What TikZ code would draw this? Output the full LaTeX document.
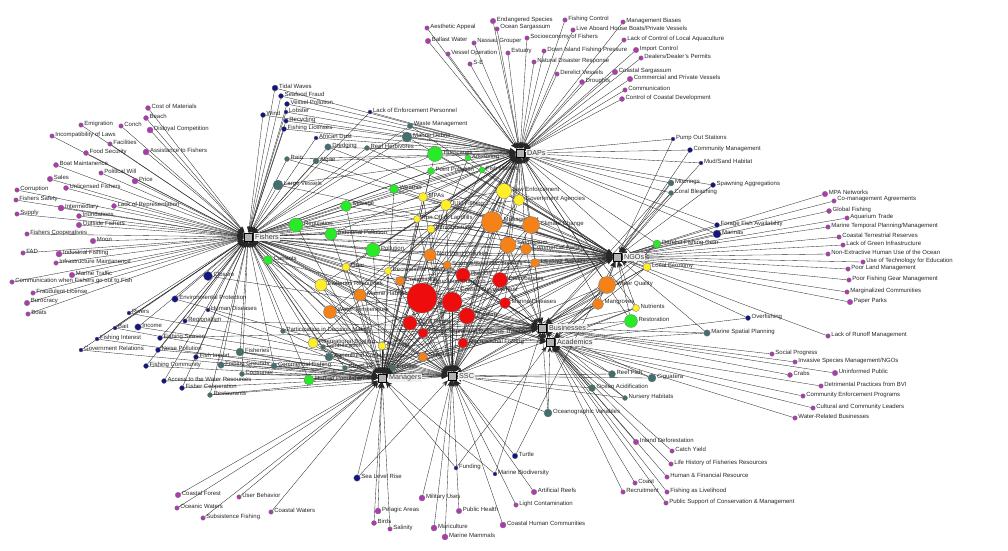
\documentclass[tikz,border=0pt]{standalone}
\usepackage{fontspec}
\setmainfont{Liberation Sans}
\usetikzlibrary{arrows.meta}
\definecolor{cpur}{RGB}{178,56,178}
\definecolor{cnavy}{RGB}{20,20,130}
\definecolor{cteal}{RGB}{66,112,110}
\definecolor{cgreen}{RGB}{40,235,40}
\definecolor{cyel}{RGB}{255,238,40}
\definecolor{corg}{RGB}{245,130,25}
\definecolor{cred}{RGB}{238,12,12}
\pgfdeclarelayer{bg}
\pgfsetlayers{bg,main}
\tikzset{
  actor/.style={circle,draw=black!55,line width=0.3pt,inner sep=0pt,minimum size=#1},
  pur/.style={actor=#1,fill=cpur},
  nav/.style={actor=#1,fill=cnavy},
  tea/.style={actor=#1,fill=cteal},
  grn/.style={actor=#1,fill=cgreen},
  yel/.style={actor=#1,fill=cyel},
  org/.style={actor=#1,fill=corg},
  rd/.style={actor=#1,fill=cred},
  lbl/.style={font=\fontsize{6}{6.6}\selectfont,text=black!85,inner sep=0.8pt,yshift=1.5pt},
  group/.style={rectangle,draw=black,fill=black!30,minimum size=8.5pt,inner sep=0pt,line width=0.4pt},
  grouplbl/.style={font=\fontsize{7.2}{8}\selectfont,text=black!75,fill=black!6,inner sep=1pt,label distance=1.5pt},
  tie/.style={->,draw=black!85,line width=0.33pt},
}
\begin{document}
\begin{tikzpicture}[x=1pt,y=-1pt,>={Stealth[length=6pt,width=4.5pt]}]
  \useasboundingbox (0,0) rectangle (1008,550);

  % stakeholder groups
  \node[group,label={[grouplbl]right:Fishers}] (fis) at (248,237) {};
  \node[group,label={[grouplbl]right:DAPs}] (dap) at (520,153) {};
  \node[group,label={[grouplbl]right:NGOs}] (ngo) at (617,257) {};
  \node[group,label={[grouplbl]right:Businesses}] (bus) at (542,328) {};
  \node[group,label={[grouplbl]right:Academics}] (aca) at (550,342) {};
  \node[group,label={[grouplbl]right:SSC}] (ssc) at (452,376) {};
  \node[group,label={[grouplbl]right:Managers}] (man) at (382,378) {};

  % named by one group
  \node[pur=5,label={[lbl]right:Cost of Materials}] (costmat) at (148,108) {};
  \node[pur=5,label={[lbl]right:Beach}] (beach) at (146,118) {};
  \node[pur=6,label={[lbl]right:Disloyal Competition}] (disloyal) at (150,130) {};
  \node[pur=6,label={[lbl]right:Assistance to Fishers}] (assist) at (146,152) {};
  \node[pur=4.5,label={[lbl]right:Emigration}] (emig) at (81,125) {};
  \node[pur=4.5,label={[lbl]right:Conch}] (conch) at (121,126) {};
  \node[pur=4.5,label={[lbl]right:Incompatibility of Laws}] (incompat) at (52,136) {};
  \node[pur=4.5,label={[lbl]right:Facilities}] (facil) at (110,144) {};
  \node[pur=5,label={[lbl]right:Food Security}] (foodsec) at (86,153) {};
  \node[pur=5,label={[lbl]right:Boat Maintanence}] (boatmaint) at (56,165) {};
  \node[pur=4.5,label={[lbl]right:Political Will}] (polwill) at (101,173) {};
  \node[pur=6,label={[lbl]right:Price}] (price) at (135,181) {};
  \node[pur=5.5,label={[lbl]right:Sales}] (sales) at (50,179) {};
  \node[pur=5,label={[lbl]right:Unlicensed Fishers}] (unlic) at (66,188) {};
  \node[pur=4.5,label={[lbl]right:Corruption}] (corrupt) at (17,190) {};
  \node[pur=4.5,label={[lbl]right:Fishers Safety}] (fsafety) at (16,200) {};
  \node[pur=6,label={[lbl]right:Intermediary}] (intermed) at (61,208) {};
  \node[pur=5,label={[lbl]right:Lack of Representation}] (lackrep) at (114,206) {};
  \node[pur=4.5,label={[lbl]right:Supply}] (supply) at (17,214) {};
  \node[pur=5,label={[lbl]right:Inundations}] (inund) at (79,216) {};
  \node[pur=5.5,label={[lbl]right:Outside Fishers}] (outside) at (79,225) {};
  \node[pur=4.5,label={[lbl]right:Fishers Cooperatives}] (fcoops) at (27,234) {};
  \node[pur=5.5,label={[lbl]right:Moon}] (moon) at (93,241) {};
  \node[pur=4.5,label={[lbl]right:FAD}] (fad) at (23,253) {};
  \node[pur=6,label={[lbl]right:Industrial Fishing}] (indfish) at (59,254) {};
  \node[pur=4.5,label={[lbl]right:Infrastructure Maintanence}] (infmaint) at (56,263) {};
  \node[pur=5.5,label={[lbl]right:Marine Traffic}] (martraf) at (72,275) {};
  \node[pur=4.5,label={[lbl]right:Communication when Fishers go out to Fish}] (commfish) at (12,282) {};
  \node[pur=4.5,label={[lbl]right:Fraudulent License}] (fraudlic) at (33,293) {};
  \node[pur=5.5,label={[lbl]right:Burocracy}] (buro) at (27,303) {};
  \node[pur=4.5,label={[lbl]right:Boats}] (boats) at (28,314) {};

  \node[pur=5.5,label={[lbl]right:Coastal Forest}] (coastforest) at (178,495) {};
  \node[pur=4.5,label={[lbl]right:Oceanic Waters}] (oceanic) at (177,508) {};
  \node[pur=4.5,label={[lbl]right:User Behavior}] (userbeh) at (239,497) {};
  \node[pur=4.5,label={[lbl]right:Subsistence Fishing}] (subsist) at (203,518) {};
  \node[pur=4.5,label={[lbl]right:Coastal Waters}] (coastwat) at (271,512) {};
  \node[pur=6,label={[lbl]right:Pelagic Areas}] (pelagic) at (378,511) {};
  \node[pur=5,label={[lbl]right:Birds}] (birds) at (374,523) {};
  \node[pur=4.5,label={[lbl]right:Salinity}] (salinity) at (390,529) {};

  \node[pur=6,label={[lbl]right:Military Uses}] (military) at (422,498) {};
  \node[pur=6,label={[lbl]right:Mariculture}] (maricult) at (434,528) {};
  \node[pur=6,label={[lbl]right:Marine Mammals}] (marmamm) at (445,537) {};
  \node[pur=5.5,label={[lbl]right:Public Health}] (pubhealth) at (459,511) {};
  \node[pur=6,label={[lbl]right:Coastal Human Communities}] (coasthum) at (503,525) {};
  \node[pur=4.5,label={[lbl]right:Light Contamination}] (lightcont) at (516,505) {};
  \node[pur=5.5,label={[lbl]right:Artificial Reefs}] (artreef) at (534,492) {};

  \node[pur=4.5,label={[lbl]right:Aesthetic Appeal}] (aesth) at (427,28) {};
  \node[pur=5.5,label={[lbl]right:Ballast Water}] (ballast) at (428,41) {};
  \node[pur=5.5,label={[lbl]right:Endangered Species}] (endang) at (493,21) {};
  \node[pur=4.5,label={[lbl]right:Ocean Sargassum}] (oceansarg) at (497,29) {};
  \node[pur=4.5,label={[lbl]right:Nassau Grouper}] (nassau) at (474,43) {};
  \node[pur=4.5,label={[lbl]right:Vessel Operation}] (vesselop) at (448,54) {};
  \node[pur=4.5,label={[lbl]right:Estuary}] (estuary) at (508,53) {};
  \node[pur=4.5,label={[lbl]right:S-E}] (se) at (470,64) {};
  \node[pur=4.5,label={[lbl]right:Socioeconomy of Fishers}] (socioeco) at (527,38) {};
  \node[pur=4.5,label={[lbl]right:Fishing Control}] (fishctrl) at (565,20) {};
  \node[pur=4.5,label={[lbl]right:Live Aboard House Boats/Private Vessels}] (liveab) at (573,30) {};
  \node[pur=4.5,label={[lbl]right:Management Biases}] (mgmtbias) at (623,22) {};
  \node[pur=4.5,label={[lbl]right:Lack of Control of Local Aquaculture}] (lackaqua) at (624,40) {};
  \node[pur=4.5,label={[lbl]right:Down Island Fishing Pressure}] (downisl) at (544,51) {};
  \node[pur=4.5,label={[lbl]right:Natural Disaster Response}] (natdis) at (534,62) {};
  \node[pur=5.5,label={[lbl]right:Import Control}] (impctrl) at (636,50) {};
  \node[pur=4.5,label={[lbl]right:Dealers/Dealer's Permits}] (dealers) at (641,58) {};
  \node[pur=4.5,label={[lbl]right:Derelict Vessels}] (derelves) at (557,74) {};
  \node[pur=5.5,label={[lbl]right:Coastal Sargassum}] (coastsarg) at (615,72) {};
  \node[pur=5,label={[lbl]right:Droughts}] (droughts) at (582,82) {};
  \node[pur=5.5,label={[lbl]right:Commercial and Private Vessels}] (commpriv) at (630,79) {};
  \node[pur=4.5,label={[lbl]right:Communication}] (communic) at (625,90) {};
  \node[pur=5,label={[lbl]right:Control of Coastal Development}] (ctrlcoast) at (622,99) {};

  \node[pur=5.5,label={[lbl]right:MPA Networks}] (mpanet) at (825,194) {};
  \node[pur=4.5,label={[lbl]right:Co-management Agreements}] (comgmt) at (834,201) {};
  \node[pur=5,label={[lbl]right:Global Fishing}] (globfish) at (829,211) {};
  \node[pur=4.5,label={[lbl]right:Aquarium Trade}] (aquar) at (847,218) {};
  \node[pur=4.5,label={[lbl]right:Marine Temporal Planning/Management}] (martemp) at (828,227) {};
  \node[pur=4.5,label={[lbl]right:Coastal Terrestrial Reserves}] (coastterr) at (839,237) {};
  \node[pur=4.5,label={[lbl]right:Lack of Green Infrastructure}] (lackgreen) at (843,245) {};
  \node[pur=4.5,label={[lbl]right:Non-Extractive Human Use of the Ocean}] (nonextr) at (828,254) {};
  \node[pur=4.5,label={[lbl]right:Use of Technology for Education}] (usetech) at (863,262) {};
  \node[pur=4.5,label={[lbl]right:Poor Land Management}] (poorland) at (848,269) {};
  \node[pur=4.5,label={[lbl]right:Poor Fishing Gear Management}] (poorgear) at (849,280) {};
  \node[pur=4.5,label={[lbl]right:Marginalized Communities}] (margin) at (847,292) {};
  \node[pur=5.5,label={[lbl]right:Paper Parks}] (paper) at (850,302) {};
  \node[pur=4.5,label={[lbl]right:Lack of Runoff Management}] (lackrun) at (828,336) {};

  \node[pur=4.5,label={[lbl]right:Social Progress}] (socprog) at (772,354) {};
  \node[pur=4.5,label={[lbl]right:Invasive Species Management/NGOs}] (invmgmt) at (795,362) {};
  \node[pur=5.5,label={[lbl]right:Uninformed Public}] (uninf) at (835,373) {};
  \node[pur=5,label={[lbl]right:Crabs}] (crabs) at (790,375) {};
  \node[pur=4.5,label={[lbl]right:Detrimental Practices from BVI}] (detrim) at (821,386) {};
  \node[pur=4.5,label={[lbl]right:Community Enforcement Programs}] (commenf) at (803,396) {};
  \node[pur=4.5,label={[lbl]right:Cultural and Community Leaders}] (cultlead) at (813,408) {};
  \node[pur=4.5,label={[lbl]right:Water-Related Businesses}] (waterbus) at (795,418) {};
  \node[pur=5.5,label={[lbl]right:Inland Deforestation}] (inland) at (636,442) {};
  \node[pur=4.5,label={[lbl]right:Catch Yield}] (catch) at (672,451) {};
  \node[pur=4.5,label={[lbl]right:Life History of Fisheries Resources}] (lifehist) at (671,464) {};
  \node[pur=4.5,label={[lbl]right:Human \& Financial Resource}] (humfin) at (667,477) {};
  \node[pur=4.5,label={[lbl]right:Coast}] (coast) at (635,483) {};
  \node[pur=4.5,label={[lbl]right:Recruitment}] (recruit) at (623,492) {};
  \node[pur=4.5,label={[lbl]right:Fishing as Livelihood}] (fishlive) at (667,492) {};
  \node[pur=4.5,label={[lbl]right:Public Support of Conservation \& Management}] (pubsup) at (666,503) {};

  % named by two groups
  \node[nav=6,label={[lbl]right:Tidal Waves}] (tidal) at (275,88) {};
  \node[nav=5,label={[lbl]right:Seafood Fraud}] (seafood) at (281,96) {};
  \node[nav=5,label={[lbl]right:Vessel Pollution}] (vesspol) at (287,104) {};
  \node[nav=5,label={[lbl]right:Wind}] (wind) at (263,115) {};
  \node[nav=4,label={[lbl]right:Lobster}] (lobster) at (286,112) {};
  \node[nav=4.5,label={[lbl]right:Recycling}] (recycl) at (286,121) {};
  \node[nav=5,label={[lbl]right:Fishing Licenses}] (flicense) at (284,129) {};
  \node[nav=4,label={[lbl]right:African Dust}] (afdust) at (316,138) {};
  \node[nav=4,label={[lbl]right:Lack of Enforcement Personnel}] (lackenf) at (370,112) {};
  \node[nav=9,label={[lbl]right:Closure}] (closure) at (208,276) {};
  \node[nav=6.5,label={[lbl]right:Environmental Protection}] (envprot) at (175,299) {};
  \node[nav=4,label={[lbl]right:Human Diseases}] (humdis) at (208,310) {};
  \node[nav=4,label={[lbl]right:Rivers}] (rivers) at (129,313) {};
  \node[nav=4.5,label={[lbl]right:Regionalism}] (region) at (185,321) {};
  \node[nav=4,label={[lbl]right:Bait}] (bait) at (115,328) {};
  \node[nav=6.5,label={[lbl]right:Income}] (income) at (138,327) {};
  \node[nav=4,label={[lbl]right:Fishing Interest}] (finter) at (97,339) {};
  \node[nav=5,label={[lbl]right:Fishing Season}] (fseason) at (160,338) {};
  \node[nav=4,label={[lbl]right:Government Relations}] (govrel) at (81,350) {};
  \node[nav=5,label={[lbl]right:Noise Pollution}] (noise) at (158,350) {};
  \node[nav=5,label={[lbl]right:Fish Import}] (fimport) at (196,357) {};
  \node[nav=5,label={[lbl]right:Fishing Community}] (fcomm) at (146,366) {};
  \node[nav=5,label={[lbl]right:Access to the Water Resources}] (access) at (164,381) {};
  \node[nav=5,label={[lbl]right:Fisher Cooperation}] (fcooper) at (182,388) {};
  \node[nav=4,label={[lbl]right:Pump Out Stations}] (pumpout) at (673,139) {};
  \node[nav=5,label={[lbl]right:Community Management}] (commmgmt) at (690,150) {};
  \node[nav=4,label={[lbl]right:Mud/Sand Habitat}] (mudsand) at (701,163) {};
  \node[nav=5,label={[lbl]right:Spawning Aggregations}] (spawn) at (713,185) {};
  \node[nav=5,label={[lbl]right:Forage Fish Availability}] (forage) at (717,225) {};
  \node[nav=8,label={[lbl]right:Marinas}] (marinas) at (717,234) {};
  \node[nav=5,label={[lbl]right:Overfishing}] (overfish) at (748,318) {};
  \node[nav=5.5,label={[lbl]right:Turtle}] (turtle) at (515,456) {};
  \node[nav=4,label={[lbl]right:Funding}] (funding) at (456,468) {};
  \node[nav=4,label={[lbl]right:Marine Biodiversity}] (marbio) at (495,474) {};
  \node[nav=6.5,label={[lbl]right:Sea Level Rise}] (sealevel) at (357,478) {};

  % named by three groups
  \node[tea=5,label={[lbl]right:Rain}] (rain) at (287,159) {};
  \node[tea=6,label={[lbl]right:Algae}] (algae) at (316,161) {};
  \node[tea=10,label={[lbl]right:Large Vessels}] (largev) at (278,185) {};
  \node[tea=6.5,label={[lbl]right:Dredging}] (dredg) at (328,147) {};
  \node[tea=5,label={[lbl]right:Reef Herbivores}] (reefherb) at (367,148) {};
  \node[tea=10,label={[lbl]right:Marine Debris}] (mardebris) at (407,137) {};
  \node[tea=5.5,label={[lbl]right:Waste Management}] (wastemgmt) at (410,126) {};
  \node[tea=6,label={[lbl]right:Moorings}] (moorings) at (671,183) {};
  \node[tea=5,label={[lbl]right:Coral Bleaching}] (coralbl) at (671,193) {};
  \node[tea=8,label={[lbl]right:Fisheries}] (fisheries) at (240,352) {};
  \node[tea=6.5,label={[lbl]right:Fishing Grounds}] (fground) at (221,365) {};
  \node[tea=6,label={[lbl]right:Commercial Fishing}] (commfishing) at (274,366) {};
  \node[tea=5,label={[lbl]right:Consumer}] (consumer) at (242,374) {};
  \node[tea=5,label={[lbl]right:Restaurants}] (restaur) at (210,395) {};
  \node[tea=5,label={[lbl]right:Participation in Decision Making}] (particip) at (283,331) {};
  \node[tea=5,label={[lbl]right:Gentrification}] (gentrif) at (323,347) {};
  \node[tea=8,label={[lbl]right:Agricultural Contamination}] (agricont) at (329,357) {};
  \node[tea=5,label={[lbl]right:Covid-19}] (covid) at (345,368) {};
  \node[tea=6,label={[lbl]right:Lionfish}] (lionfish) at (393,368) {};
  \node[tea=6.5,label={[lbl]right:Marine Spatial Planning}] (marspat) at (707,333) {};
  \node[tea=7,label={[lbl]right:Reef Fish}] (reeffish) at (612,374) {};
  \node[tea=8,label={[lbl]right:Ciguatera}] (cigua) at (652,378) {};
  \node[tea=7,label={[lbl]right:Ocean Acidification}] (oceanacid) at (592,388) {};
  \node[tea=5,label={[lbl]right:Nursery Habitats}] (nursery) at (625,398) {};
  \node[tea=8,label={[lbl]right:Oceanographic Variables}] (oceanvar) at (548,413) {};

  % named by four groups
  \node[grn=14,label={[lbl]right:Regulation}] (regulation) at (296,225) {};
  \node[grn=15,label={[lbl]right:Hurricanes}] (hurric) at (435,154) {};
  \node[grn=7,label={[lbl]right:Point Pollution}] (pointpol) at (431,171) {};
  \node[grn=9,label={[lbl]right:Weather}] (weather) at (394,189) {};
  \node[grn=11,label={[lbl]right:Sewage}] (sewage) at (346,206) {};
  \node[grn=12,label={[lbl]right:Industrial Pollution}] (indpol) at (331,234) {};
  \node[grn=14,label={[lbl]right:Pollution}] (pollution) at (373,250) {};
  \node[grn=6,label={[lbl]right:Anchoring}] (anchor) at (468,158) {};
  \node[grn=6,label={[lbl]right:Fish Market}] (fishmkt) at (482,170) {};
  \node[grn=9,label={[lbl]right:Currents}] (currents) at (268,260) {};
  \node[grn=10,label={[lbl]right:Human Population}] (humpop) at (309,380) {};
  \node[grn=8,label={[lbl]right:Derelict Fishing Gear}] (dergear) at (657,244) {};
  \node[grn=13,label={[lbl]right:Restoration}] (restor) at (631,321) {};

  % named by five groups
  \node[yel=9,label={[lbl]right:MPAs}] (mpas) at (423,197) {};
  \node[yel=11,label={[lbl]right:IUU Fishing}] (iuu) at (446,205) {};
  \node[yel=7,label={[lbl]right:Run Off of Landfills}] (runland) at (417,219) {};
  \node[yel=8,label={[lbl]right:Infrastructure}] (infra) at (431,229) {};
  \node[yel=8,label={[lbl]right:Gear}] (gear) at (346,267) {};
  \node[yel=7,label={[lbl]right:Recreational Activities}] (recact) at (388,271) {};
  \node[yel=12,label={[lbl]right:Fisheries Resources}] (fishres) at (321,285) {};
  \node[yel=15,label={[lbl]right:Law Enforcement}] (lawenf) at (504,191) {};
  \node[yel=11,label={[lbl]right:Government Agencies}] (govag) at (519,200) {};
  \node[yel=10,label={[lbl]right:Recreational Boating}] (recboat) at (313,343) {};
  \node[yel=8,label={[lbl]right:Demand}] (demand) at (382,346) {};
  \node[yel=8,label={[lbl]right:Local Economy}] (localecon) at (647,267) {};
  \node[yel=7,label={[lbl]right:Nutrients}] (nutrients) at (636,308) {};

  % named by six groups
  \node[org=12,label={[lbl]right:Non Point Pollution}] (nonpoint) at (430,255) {};
  \node[org=8,label={[lbl]right:Science/Scientific Surveys}] (science) at (447,265) {};
  \node[org=9,label={[lbl]right:Compliance}] (compliance) at (400,281) {};
  \node[org=21,label={[lbl]right:Management}] (management) at (492,222) {};
  \node[org=17,label={[lbl]right:Climate Change}] (climate) at (531,225) {};
  \node[org=16,label={[lbl]right:Sargassum}] (sargassum) at (508,245) {};
  \node[org=11,label={[lbl]right:Commercial Fishers}] (commfishers) at (526,249) {};
  \node[org=9,label={[lbl]right:Invasive Species}] (invasive) at (535,263) {};
  \node[org=12,label={[lbl]right:Marine Habitats}] (marhab) at (360,295) {};
  \node[org=13,label={[lbl]right:Water Temperature}] (watertemp) at (330,312) {};
  \node[org=9,label={[lbl]right:Seagrass}] (seagrass) at (423,357) {};
  \node[org=17,label={[lbl]right:Water Quality}] (waterqual) at (607,285) {};
  \node[org=11,label={[lbl]right:Mangroves}] (mangroves) at (598,304) {};

  % named by all groups
  \node[rd=14,label={[lbl]right:Run Off}] (runoff) at (463,275) {};
  \node[rd=15,label={[lbl]right:Disturbances}] (disturb) at (500,280) {};
  \node[rd=30,label={[lbl]50:Education/Outreach}] (eduout) at (422,298) {};
  \node[rd=20,label={[lbl]45:Coastal Development}] (coastdev) at (452,302) {};
  \node[rd=11,label={[lbl]right:Marine Diseases}] (mardis) at (505,303) {};
  \node[rd=16,label={[lbl]right:Tourism}] (tourism) at (467,316) {};
  \node[rd=14,label={[lbl]right:Coral Reefs}] (coralreef) at (410,323) {};
  \node[rd=10,label={[lbl]right:Local Cultural and Religious Traditions}] (localcult) at (423,333) {};
  \node[rd=10,label={[lbl]right:Recreational Fishing}] (recfish) at (463,343) {};

  \begin{pgfonlayer}{bg}
    \foreach \a in {costmat,beach,disloyal,assist,emig,conch,incompat,facil,foodsec,boatmaint,polwill,price,sales,unlic,corrupt,fsafety,intermed,lackrep,supply,inund,outside,fcoops,moon,fad,indfish,infmaint,martraf,commfish,fraudlic,buro,boats}
      \draw[tie] (\a) -- (fis);
    \foreach \a in {coastforest,oceanic,userbeh,subsist,coastwat,pelagic,birds,salinity}
      \draw[tie] (\a) -- (man);
    \foreach \a in {military,maricult,marmamm,pubhealth,coasthum,lightcont,artreef}
      \draw[tie] (\a) -- (ssc);
    \foreach \a in {aesth,ballast,endang,oceansarg,nassau,vesselop,estuary,se,socioeco,fishctrl,liveab,mgmtbias,lackaqua,downisl,natdis,impctrl,dealers,derelves,coastsarg,droughts,commpriv,communic,ctrlcoast}
      \draw[tie] (\a) -- (dap);
    \foreach \a in {mpanet,comgmt,globfish,aquar,martemp,coastterr,lackgreen,nonextr,usetech,poorland,poorgear,margin,paper,lackrun}
      \draw[tie] (\a) -- (ngo);
    \foreach \a in {socprog,invmgmt,uninf,crabs}
      \draw[tie] (\a) -- (bus);
    \foreach \a in {detrim,commenf,cultlead,waterbus,inland,catch,lifehist,humfin,coast,recruit,fishlive,pubsup}
      \draw[tie] (\a) -- (aca);

    \foreach \a in {tidal,seafood,vesspol,wind,lobster,recycl,flicense,afdust,lackenf}
      \foreach \h in {fis,dap} \draw[tie] (\a) -- (\h);
    \foreach \a in {humdis,bait,finter,govrel,fimport,fcomm,fcooper}
      \foreach \h in {fis,man} \draw[tie] (\a) -- (\h);
    \foreach \a in {envprot,rivers,income,noise,access}
      \foreach \h in {fis,ssc} \draw[tie] (\a) -- (\h);
    \foreach \a in {closure,region,fseason}
      \foreach \h in {fis,bus} \draw[tie] (\a) -- (\h);
    \foreach \a in {pumpout,commmgmt,mudsand,spawn,forage,marinas}
      \foreach \h in {dap,ngo} \draw[tie] (\a) -- (\h);
    \foreach \h in {ngo,aca} \draw[tie] (overfish) -- (\h);
    \foreach \h in {ssc,ngo} \draw[tie] (turtle) -- (\h);
    \foreach \h in {man,aca} \draw[tie] (funding) -- (\h);
    \foreach \h in {man,bus} \draw[tie] (marbio) -- (\h);
    \foreach \h in {man,ssc} \draw[tie] (sealevel) -- (\h);

    \foreach \a in {rain,algae,largev,dredg,reefherb,mardebris,wastemgmt}
      \foreach \h in {fis,dap,ngo} \draw[tie] (\a) -- (\h);
    \foreach \a in {moorings,coralbl}
      \foreach \h in {dap,ngo,bus} \draw[tie] (\a) -- (\h);
    \foreach \a in {fisheries,fground,commfishing,consumer,restaur}
      \foreach \h in {fis,man,ssc} \draw[tie] (\a) -- (\h);
    \foreach \a in {particip,gentrif,agricont,covid,lionfish}
      \foreach \h in {fis,man,bus} \draw[tie] (\a) -- (\h);
    \foreach \h in {ngo,bus,aca} \draw[tie] (marspat) -- (\h);
    \foreach \a in {reeffish,cigua,oceanacid,nursery,oceanvar}
      \foreach \h in {bus,aca,ssc} \draw[tie] (\a) -- (\h);

    \foreach \a in {regulation,hurric,pointpol,weather,sewage,indpol,pollution,anchor,fishmkt}
      \foreach \h in {fis,dap,ngo,man} \draw[tie] (\a) -- (\h);
    \foreach \a in {currents,humpop}
      \foreach \h in {fis,man,ssc,bus} \draw[tie] (\a) -- (\h);
    \foreach \a in {dergear,restor}
      \foreach \h in {dap,ngo,bus,aca} \draw[tie] (\a) -- (\h);

    \foreach \a in {mpas,iuu,runland,infra,gear,recact,fishres,lawenf,govag,recboat,demand}
      \foreach \h in {fis,dap,ngo,man,ssc} \draw[tie] (\a) -- (\h);
    \foreach \a in {localecon,nutrients}
      \foreach \h in {dap,ngo,bus,aca,ssc} \draw[tie] (\a) -- (\h);

    \foreach \a in {nonpoint,science,compliance,management,climate,sargassum,commfishers,invasive,marhab,watertemp,seagrass}
      \foreach \h in {fis,dap,ngo,bus,ssc,man} \draw[tie] (\a) -- (\h);
    \foreach \a in {waterqual,mangroves}
      \foreach \h in {dap,ngo,bus,aca,ssc,man} \draw[tie] (\a) -- (\h);

    \foreach \a in {runoff,disturb,eduout,coastdev,mardis,tourism,coralreef,localcult,recfish}
      \foreach \h in {fis,dap,ngo,bus,aca,ssc,man} \draw[tie] (\a) -- (\h);
  \end{pgfonlayer}
\end{tikzpicture}
\end{document}
